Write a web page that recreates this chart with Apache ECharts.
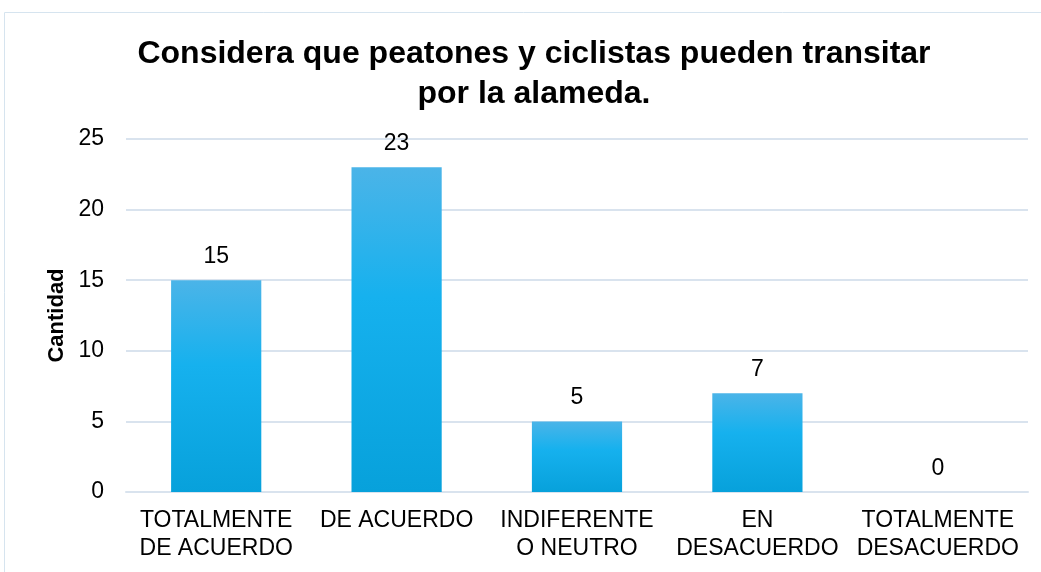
<!DOCTYPE html>
<html>
<head>
<meta charset="utf-8">
<script src="https://cdn.jsdelivr.net/npm/echarts@6/dist/echarts.min.js"></script>
<style>
  html, body { margin: 0; padding: 0; background: #fff; }
  #main { width: 1041px; height: 572px; }
</style>
</head>
<body>
<div id="main"></div>
<script>
    // datos del grafico
    var categorias = ['TOTALMENTE\nDE ACUERDO', 'DE ACUERDO', 'INDIFERENTE\nO NEUTRO', 'EN\nDESACUERDO', 'TOTALMENTE\nDESACUERDO'];
    var cantidades = [15, 23, 5, 7, 0];
    var ticksY = [0, 5, 10, 15, 20, 25];

    var chart = echarts.init(document.getElementById('main'));

    var fuente = '"Liberation Sans", Arial, sans-serif';

    chart.setOption({
        animation: false,
        textStyle: {fontFamily: fuente},
        graphic: [{
            type: 'rect',
            shape: {x: 4.5, y: 12.5, width: 1100, height: 700},
            style: {fill: 'none', stroke: '#d6e4ef', lineWidth: 1},
            silent: true
        }],
        title: {
            text: 'Considera que peatones y ciclistas pueden transitar\npor la alameda.',
            left: 529,
            top: 29,
            textAlign: 'center',
            textStyle: {
                fontFamily: fuente,
                fontSize: 32,
                fontWeight: 'bold',
                color: '#000',
                lineHeight: 40
            }
        },
        grid: {left: 126, right: 13, top: 139, bottom: 80},
        xAxis: {
            type: 'category',
            data: categorias,
            axisTick: {show: false},
            axisLine: {lineStyle: {color: '#d9e3ee', width: 2}},
            axisLabel: {
                interval: 0,
                color: '#000',
                fontSize: 23,
                lineHeight: 28,
                margin: 15,
                fontFamily: fuente
            }
        },
        yAxis: {
            type: 'value',
            min: ticksY[0],
            max: ticksY[ticksY.length - 1],
            interval: 5,
            name: 'Cantidad',
            nameLocation: 'middle',
            nameGap: 55,
            nameTextStyle: {color: '#000', fontSize: 22, fontWeight: 'bold', fontFamily: fuente},
            axisLine: {show: false},
            axisTick: {show: false},
            axisLabel: {color: '#000', fontSize: 23, margin: 22, fontFamily: fuente},
            splitLine: {lineStyle: {color: '#d9e3ee', width: 2}}
        },
        series: [{
            type: 'bar',
            data: cantidades,
            barWidth: '50%',
            itemStyle: {
                color: new echarts.graphic.LinearGradient(0, 0, 0, 1, [
                    {offset: 0, color: '#4bb4e8'},
                    {offset: 0.4, color: '#16b1ee'},
                    {offset: 1, color: '#07a1db'}
                ])
            },
            label: {
                show: true,
                position: 'top',
                distance: 12,
                color: '#000',
                fontSize: 23,
                fontFamily: fuente
            }
        }]
    });
</script>
</body>
</html>
